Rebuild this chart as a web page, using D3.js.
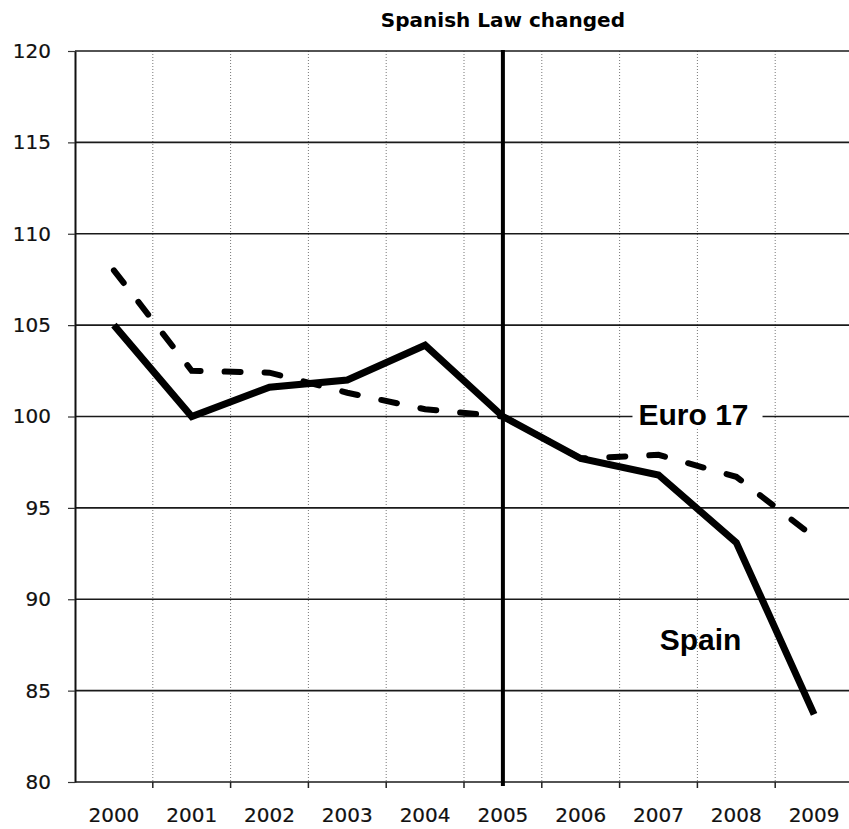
<!DOCTYPE html>
<html>
<head>
<meta charset="utf-8">
<script src="https://cdn.jsdelivr.net/npm/d3@7"></script>
<style>
  html, body { margin: 0; padding: 0; background: #fff; }
  svg { display: block; }
  .tick text { font-family: "DejaVu Sans", sans-serif; font-size: 20px; fill: #111; stroke: #111; stroke-width: 0.2px; }
</style>
</head>
<body>
<svg id="chart" width="849" height="829"></svg>
<script>
// Index values by year
const years = ["2000","2001","2002","2003","2004","2005","2006","2007","2008","2009"];
const spain = [105.0, 100.0, 101.6, 102.0, 103.9, 100.0, 97.7, 96.8, 93.1, 83.7];
const euro17 = [108.0, 102.5, 102.4, 101.3, 100.4, 100.0, 97.7, 97.9, 96.7, 93.4];
const yTicks = [80, 85, 90, 95, 100, 105, 110, 115, 120];
const eventYear = "2005";
const eventLabel = "Spanish Law changed";

const svg = d3.select("#chart");

const x = d3.scaleBand().domain(years).range([75, 853]).padding(0);
const y = d3.scaleLinear().domain([80, 120]).range([782, 51]);
const cx = d => x(d) + x.bandwidth() / 2;

// Vertical dotted gridlines between years
svg.append("g")
  .selectAll("line")
  .data(years.slice(1))
  .join("line")
  .attr("x1", d => x(d)).attr("x2", d => x(d))
  .attr("y1", y(120)).attr("y2", y(80))
  .attr("stroke", "#777")
  .attr("stroke-width", 1)
  .attr("stroke-dasharray", "1,2");

// Horizontal gridlines
svg.append("g")
  .selectAll("line")
  .data(yTicks)
  .join("line")
  .attr("x1", x.range()[0]).attr("x2", 849)
  .attr("y1", d => y(d)).attr("y2", d => y(d))
  .attr("stroke", "#1a1a1a")
  .attr("stroke-width", 1.6);

// Y axis
const yAxis = svg.append("g")
  .attr("transform", `translate(${x.range()[0]},0)`)
  .call(d3.axisLeft(y).tickValues(yTicks).tickSizeInner(7).tickSizeOuter(0).tickPadding(17));
yAxis.select(".domain").attr("stroke", "#111").attr("stroke-width", 2);
yAxis.selectAll(".tick line").attr("stroke", "#333").attr("stroke-width", 1.2);

// X axis labels
const xAxis = svg.append("g")
  .attr("transform", `translate(0,${y(80)})`)
  .call(d3.axisBottom(x).tickSize(0).tickPadding(26));
xAxis.select(".domain").remove();

// Tick marks at year boundaries
svg.append("g")
  .selectAll("line")
  .data(years.slice(1))
  .join("line")
  .attr("x1", d => x(d)).attr("x2", d => x(d))
  .attr("y1", y(80)).attr("y2", y(80) + 6)
  .attr("stroke", "#222")
  .attr("stroke-width", 1.5);

// Event marker
svg.append("line")
  .attr("x1", cx(eventYear)).attr("x2", cx(eventYear))
  .attr("y1", y(120) - 1).attr("y2", y(80) + 4)
  .attr("stroke", "#000")
  .attr("stroke-width", 4);

svg.append("text")
  .attr("x", cx(eventYear))
  .attr("y", 27)
  .attr("text-anchor", "middle")
  .style("font-family", "'DejaVu Sans', sans-serif")
  .style("font-weight", "bold")
  .style("font-size", "20px")
  .attr("fill", "#000")
  .text(eventLabel);

const line = d3.line()
  .x((d, i) => cx(years[i]))
  .y(d => y(d));

// Euro 17 (dashed)
svg.append("path")
  .datum(euro17)
  .attr("d", line)
  .attr("fill", "none")
  .attr("stroke", "#000")
  .attr("stroke-width", 6)
  .attr("stroke-linecap", "round")
  .attr("stroke-dasharray", "16,24");

// Spain (solid)
svg.append("path")
  .datum(spain)
  .attr("d", line)
  .attr("fill", "none")
  .attr("stroke", "#000")
  .attr("stroke-width", 7)
  .attr("stroke-linejoin", "miter");

// Series labels
const euroLabel = svg.append("g");
const euroText = euroLabel.append("text")
  .attr("x", cx("2007") + 35)
  .attr("y", y(100) + 8)
  .attr("text-anchor", "middle")
  .style("font-family", "'Liberation Sans', Arial, sans-serif")
  .style("font-weight", "bold")
  .style("font-size", "30px")
  .attr("fill", "#000")
  .text("Euro 17");
const bb = euroText.node().getBBox();
euroLabel.insert("rect", "text")
  .attr("x", bb.x - 6).attr("y", bb.y + 2)
  .attr("width", bb.width + 20).attr("height", bb.height - 4)
  .attr("fill", "#fff");

svg.append("text")
  .attr("x", cx("2007") + 42)
  .attr("y", y(87.2))
  .attr("text-anchor", "middle")
  .style("font-family", "'Liberation Sans', Arial, sans-serif")
  .style("font-weight", "bold")
  .style("font-size", "30px")
  .attr("fill", "#000")
  .text("Spain");
</script>
</body>
</html>
